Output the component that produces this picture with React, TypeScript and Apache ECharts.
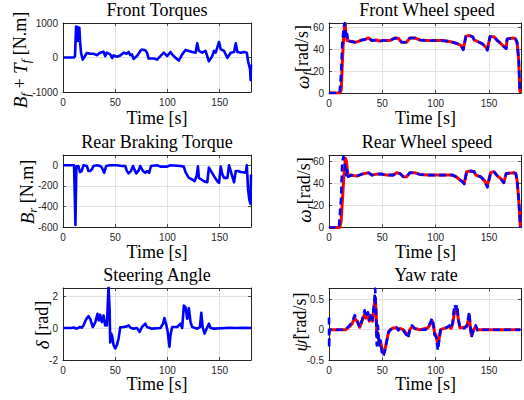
import React, { useEffect, useRef } from "react";
import * as echarts from "echarts";

// ---------- data ----------
const timeTicks = [0, 50, 100, 150];

const frontTorqueTicks = [-1000, 0, 1000];
const rearTorqueTicks = [-600, -400, -200, 0];
const speedTicks = [0, 20, 40, 60];
const steeringTicks = [-2, 0, 2];
const yawTicks = [-0.5, 0, 0.5];

const frontTorque = [
  [0, 0], [10.6, 0], [11.5, 50], [12.5, 900], [13.1, 480], [14.1, 880], [15, 480], [15.7, 860], [16.3, 480],
  [17.3, 130], [18.9, -60], [20.2, 0], [22.8, 130], [26, 110], [29.2, 110], [32.4, 70], [35.6, 140], [38.8, 170],
  [40.4, 40], [42, 140], [45.2, 90], [47.1, -20], [48.4, 60], [51.6, 20], [54.8, 60], [58, 140], [61.2, 110],
  [62.8, 160], [64.4, 70], [66, 90], [67.6, -40], [70.8, 40], [74, 190], [75.6, 230], [78.8, 210], [80.4, 140],
  [82, -30], [86.9, -30], [90.1, -60], [93.3, 40], [96.5, 140], [99.7, 40], [102.9, 160], [104.5, 90],
  [107.7, -10], [110.9, -90], [114.1, 90], [117.3, 220], [120.5, 190], [123.7, 160], [126.9, 140], [128.5, 410],
  [130.1, 190], [133.3, 140], [136.5, 190], [139.7, -110], [142.9, 40], [144.6, 190], [146.2, 140], [149.4, 450],
  [151, 240], [154.2, 190], [157.4, -10], [160.6, 140], [163.8, 160], [165.4, 410], [167, 160], [170.2, 140],
  [173.4, 160], [176, 140], [177.2, -110], [179.2, -350], [179.6, -650], [180, -200],
];

const frontSpeedRed = [
  [0, 0], [10.5, 0], [11.5, 3], [12.4, 25], [13.3, 44], [14.5, 60], [15.2, 63.5], [16, 52], [17, 48], [18.6, 47.5],
  [21, 47], [24.7, 46.4], [27, 47], [30.9, 48.5], [34, 49], [37.1, 50.3], [40.2, 48], [44.9, 48.5], [47, 47.5],
  [51, 48], [57.2, 48], [61.9, 50.3], [65, 50], [68, 46.4], [72.7, 46.4], [75.8, 50.3], [80.4, 50.3], [85.1, 48.5],
  [92.8, 48], [99, 48], [105.2, 48], [111.4, 47.4], [116, 46.4], [120.6, 45], [123.7, 43.4], [125.9, 40],
  [128.4, 52], [131.5, 52.5], [134.6, 51.5], [136.1, 48.5], [140.7, 46.4], [143.8, 45], [146.8, 42], [148.5, 40],
  [150.9, 51.5], [154.7, 51.5], [157.7, 48], [160.8, 45.5], [163.9, 42.5], [166.1, 41], [167, 49.4], [173.2, 50.3],
  [174.8, 49.4], [176.3, 46.4], [177.9, 30], [178.8, 3], [179.4, 0],
];

const frontSpeedBlue = [
  [0, 0], [9.9, 0], [11.4, 18], [12.4, 45], [13.9, 61], [14.8, 64], [15.5, 52], [16.1, 50], [17, 54], [17.9, 47],
  [18.6, 48], [21, 47], [24.7, 46.4], [27, 47], [30.9, 48.5], [34, 49], [37.1, 50.3], [40.2, 48], [44.9, 48.5],
  [47, 47.5], [51, 48], [57.2, 48], [61.9, 50.3], [65, 50], [68, 46.4], [72.7, 46.4], [75.8, 50.3], [80.4, 50.3],
  [85.1, 48.5], [92.8, 48], [99, 48], [105.2, 48], [111.4, 47.4], [116, 46.4], [120.6, 45], [123.7, 43.4],
  [125.9, 39.5], [128.4, 52.5], [131.5, 52.5], [134.6, 51.5], [136.1, 48.5], [140.7, 46.4], [143.8, 45],
  [146.8, 42], [148.5, 39], [150.9, 51.5], [154.7, 51.5], [157.7, 48], [160.8, 45.5], [163.9, 42.5], [166.1, 40.4],
  [167, 49.4], [173.2, 50.3], [174.8, 49.4], [176.3, 46.4], [177.9, 30], [178.8, 2.7], [179.4, 0],
];

const rearTorque = [
  [0, 0], [10.6, 0], [11.9, -580], [12.8, -10], [14.7, -7], [16.3, -66], [17.8, -56], [19.6, 0], [22.8, -7],
  [24.4, -56], [26, -56], [27.6, -40], [29.2, -7], [32.4, 0], [35.6, -7], [37.2, -23], [39.4, -73], [41.3, -7],
  [45, 0], [51.6, 0], [56.4, -7], [59.6, -7], [61.2, -56], [62.8, -79], [65, -56], [67, -7], [68.3, -40],
  [70.2, -79], [72.4, -50], [74, -7], [76.6, -56], [78.8, -73], [80.4, -56], [82.4, -73], [84.3, -7], [90, 0],
  [93.3, -13], [99.7, -13], [102.9, 0], [112.5, -7], [115.7, -13], [117.3, -66], [120.5, -122], [123.7, -138],
  [126, -155], [128, -100], [129.2, -10], [130.1, -122], [134.9, -155], [138.1, -165], [139.7, -23], [144.6, -106],
  [147.8, -155], [149.4, -171], [151, -13], [152.6, -89], [154.2, -122], [157.4, -122], [159, 0], [160.6, -56],
  [163.8, -165], [165.4, -56], [167.6, -56], [170.2, -66], [175, -73], [176, 0], [177.2, -237], [178.4, -336],
  [179.5, -376], [180, -89],
];

const rearSpeedRed = [
  [0, 0], [10, 0], [11.3, 5], [12.4, 21.7], [13.9, 45.8], [15.5, 62.4], [16.4, 59.4], [17.6, 47.3], [21, 47.3],
  [26, 46.4], [30.9, 48.2], [37.1, 49.4], [40.2, 47.3], [44.9, 48.2], [49.5, 48.2], [54.1, 47.3], [60.3, 47.3],
  [63.4, 49.4], [66.5, 48.8], [69.6, 45.8], [72.7, 45.8], [75.8, 49.4], [80.4, 49.4], [85.1, 47.9], [92.8, 47.3],
  [100.5, 47.3], [108.3, 47.3], [116, 47.3], [119.1, 45.8], [122.2, 43.4], [125.3, 41.3], [126.8, 39.8],
  [129, 50.3], [133, 51], [136.1, 50.3], [137.6, 47.3], [142.2, 45.8], [145.3, 42.8], [148.5, 38], [151.6, 49.7],
  [154.7, 50.3], [157.7, 46.7], [160.8, 44.3], [163.9, 40.4], [166.1, 48.8], [173.2, 49.4], [175.1, 48.8],
  [176.3, 42.8], [177.9, 24.7], [179.4, 0],
];

const rearSpeedBlue = [
  [0, 0], [9.3, 0], [11.4, 27.7], [12.4, 59.4], [13.6, 64], [14.8, 57.9], [16.1, 47.3], [17, 51.9], [17.9, 45.8],
  [21, 47.3], [26, 46.4], [30.9, 48.2], [37.1, 49.4], [40.2, 47.3], [44.9, 48.2], [49.5, 48.2], [54.1, 47.3],
  [60.3, 47.3], [63.4, 49.4], [66.5, 48.8], [69.6, 45.8], [72.7, 45.8], [75.8, 49.4], [80.4, 49.4], [85.1, 47.9],
  [92.8, 47.3], [100.5, 47.3], [108.3, 47.3], [116, 47.3], [119.1, 45.8], [122.2, 43.4], [125.3, 41.3],
  [126.8, 39.2], [129, 50.3], [133, 51], [136.1, 50.3], [137.6, 47.3], [142.2, 45.8], [145.3, 42.8], [148.5, 36.2],
  [151.6, 49.7], [154.7, 50.3], [157.7, 46.7], [160.8, 44.3], [163.9, 40.4], [166.1, 48.8], [173.2, 49.4],
  [175.1, 48.8], [176.3, 42.8], [177.9, 24.7], [179.4, 0],
];

const steering = [
  [0, 0], [8, 0], [10, 0.03], [12, -0.02], [13.1, -0.04], [16.3, 0.06], [18, 0.02], [19.6, 0.16], [22.1, 0.54],
  [24.4, 0.74], [26, 0.58], [28.5, 0.06], [30.8, 0.33], [33, 0.89], [34.3, 0.47], [35.6, 0.82], [37.2, 0.37],
  [38.8, 0.78], [40.4, 0.16], [42, 0.16], [43.6, 2.6], [44.6, 1.2], [45.2, -0.91], [46.2, -0.35], [47.1, -0.5],
  [48.4, -1.07], [50, -1.28], [51.6, -1.07], [53.2, -0.66], [54.8, 0.04], [58, 0.06], [61.2, 0.1], [62.8, 0.16],
  [65, 0], [67.6, -0.04], [70.8, 0], [73.4, -0.25], [75.6, 0.06], [78.8, 0.27], [80.4, 0.06], [85.3, -0.04],
  [93.3, 0], [95.8, 0.27], [97.1, 0.62], [99, 0.16], [100.3, -0.25], [101.9, -1.18], [102.9, -0.45], [104.5, 0.06],
  [109.3, 0.06], [112.5, 0.27], [114.1, 0], [115.7, 1.4], [117.3, 1.3], [118.9, 0.58], [120.5, 1.24], [122.1, 0.37],
  [123.7, 0.06], [128.5, -0.04], [131.1, 0.06], [132.4, 0.95], [133.7, 0.06], [135.6, -0.35], [137.5, -0.04],
  [139.7, 0.27], [141.3, 0], [144.6, -0.04], [160, 0.02], [163.8, 0], [175, 0.02], [180, 0],
];

const yawRed = [
  [0, 0], [15.5, 0], [19.2, 0.05], [21.7, 0.1], [24.1, 0.19], [26.3, 0.14], [28.8, 0.04], [30.9, 0.14], [33.4, 0.26],
  [34.6, 0.19], [36.5, 0.24], [37.7, 0.14], [39.6, 0.22], [40.8, 0.14], [42.7, 0.46], [43.3, 0.54], [44.2, 0.3],
  [44.8, -0.1], [45.8, -0.05], [47, -0.2], [48.3, -0.2], [49.5, -0.3], [51, -0.38], [52.6, -0.32], [54.1, -0.18],
  [55.7, -0.05], [57.2, 0], [60.3, 0.03], [63.4, 0.03], [65, 0], [66.5, 0.02], [69.6, 0], [72.7, -0.07],
  [74.2, -0.1], [75.8, 0], [77.9, 0.05], [80.4, 0.02], [85.1, 0], [92.8, 0.03], [95.3, 0.1], [96.5, 0.15],
  [97.8, 0.09], [99, -0.05], [100.5, -0.1], [102.1, -0.26], [103, -0.18], [104.5, 0], [112.9, 0.05], [114.4, 0.02],
  [116, 0.1], [117.5, 0.29], [119.1, 0.27], [120, 0.35], [121.3, 0.16], [122.8, 0.03], [129.3, 0.05], [131.5, 0.24],
  [132.5, 0.05], [133.6, -0.1], [135.5, 0], [137.6, 0.05], [139.1, 0], [179.4, 0],
];

const yawBlue = [
  [0, 0.2], [0.15, -0.3], [0.5, 0], [15.5, 0], [19.2, 0.07], [21.7, 0.13], [24.1, 0.24], [26.3, 0.16], [28.8, 0.04],
  [30.9, 0.16], [33.4, 0.32], [34.6, 0.21], [36.5, 0.29], [37.7, 0.16], [39.6, 0.27], [40.8, 0.16], [42.7, 0.52],
  [43.3, 0.68], [44.2, 0.18], [44.8, -0.26], [45.8, 0.07], [47, -0.26], [48.3, -0.18], [49.5, -0.37], [51, -0.44],
  [52.6, -0.34], [54.1, -0.2], [55.7, -0.04], [57.2, -0.01], [60.3, 0.03], [63.4, 0.04], [65, -0.01], [66.5, 0.03],
  [69.6, -0.01], [72.7, -0.09], [74.2, -0.14], [75.8, 0], [77.9, 0.07], [80.4, 0.02], [85.1, 0], [90.4, 0],
  [92.8, 0.04], [95.3, 0.13], [96.5, 0.19], [97.8, 0.1], [99, -0.09], [100.5, -0.12], [102.1, -0.34], [103, -0.21],
  [104.5, -0.01], [106.7, 0.02], [109.8, 0.03], [112.9, 0.07], [114.4, 0.02], [116, 0.13], [117.5, 0.41],
  [119.1, 0.35], [120, 0.41], [121.3, 0.18], [122.8, 0.04], [126.8, 0.02], [129.3, 0.07], [131.5, 0.29],
  [132.5, 0.04], [133.6, -0.12], [135.5, -0.01], [137.6, 0.07], [139.1, -0.01], [142.2, 0], [179.4, 0],
];

// ---------- layout / styling ----------
const SERIF = "'Liberation Serif', 'Times New Roman', serif";
const SANS = "'Liberation Sans', Arial, sans-serif";
const AX = "#262626";
const GRIDC = "#e2e2e2";
const BLUE = "#0000ff";
const RED = "#ff0000";

const panels = [
  { grid: { left: 63, top: 23, width: 188, height: 69 }, y: [-1000, 1000, 1000], ticks: frontTorqueTicks,
    title: "Front Torques", tpos: [157, 10], xlabY: 118,
    ylab: "{i|B}{s|f}{n| + }{i|T}{s|f}{n| [N.m]}", ypos: [20, 60] },
  { grid: { left: 329, top: 23, width: 193, height: 70 }, y: [0, 64, 20], ticks: speedTicks,
    title: "Front Wheel speed", tpos: [427, 10], xlabY: 118,
    ylab: "{i|ω}{s|f}{n|[rad/s]}", ypos: [302, 57] },
  { grid: { left: 63, top: 155, width: 188, height: 72 }, y: [-600, 100, 200], ticks: rearTorqueTicks,
    title: "Rear Braking Torque", tpos: [157, 142], xlabY: 252,
    ylab: "{i|B}{s|r}{n| [N.m]}", ypos: [27, 192] },
  { grid: { left: 329, top: 155.5, width: 193, height: 72 }, y: [0, 65, 20], ticks: speedTicks,
    title: "Rear Wheel speed", tpos: [427, 142], xlabY: 252,
    ylab: "{i|ω}{s|r}{n|[rad/s]}", ypos: [304, 190] },
  { grid: { left: 63, top: 288, width: 188, height: 72 }, y: [-2, 2.5, 2], ticks: steeringTicks,
    title: "Steering Angle", tpos: [157, 275], xlabY: 384,
    ylab: "{i|δ}{n| [rad]}", ypos: [42, 325] },
  { grid: { left: 329, top: 288.5, width: 193, height: 71.5 }, y: [-0.5, 0.68, 0.5], ticks: yawTicks,
    title: "Yaw rate", tpos: [426, 275], xlabY: 384,
    ylab: "{i|ψ\u0307}{n|[rad/s]}", ypos: [300, 322] },
];

const seriesSpec = [
  { panel: 0, data: frontTorque, color: BLUE, width: 2.6, dashed: false },
  { panel: 1, data: frontSpeedRed, color: RED, width: 3, dashed: false },
  { panel: 1, data: frontSpeedBlue, color: BLUE, width: 2.6, dashed: true },
  { panel: 2, data: rearTorque, color: BLUE, width: 2.6, dashed: false },
  { panel: 3, data: rearSpeedRed, color: RED, width: 3, dashed: false },
  { panel: 3, data: rearSpeedBlue, color: BLUE, width: 2.6, dashed: true },
  { panel: 4, data: steering, color: BLUE, width: 2.6, dashed: false },
  { panel: 5, data: yawRed, color: RED, width: 3, dashed: false },
  { panel: 5, data: yawBlue, color: BLUE, width: 2.6, dashed: true },
];

function buildOption() {
  const grid: any[] = [];
  const xAxis: any[] = [];
  const yAxis: any[] = [];
  const graphic: any[] = [];
  const tick = { show: true, inside: true, length: 3, lineStyle: { color: AX, width: 0.8 } };
  const line = { show: true, onZero: false, lineStyle: { color: AX, width: 1 } };

  panels.forEach((p, i) => {
    grid.push({ ...p.grid, containLabel: false });
    xAxis.push({
      type: "value", gridIndex: i, position: "bottom", min: 0, max: 180, interval: 50,
      axisLine: line, axisTick: tick,
      axisLabel: {
        fontSize: 10, color: AX, fontFamily: SANS, margin: 5,
        formatter: (v: number) => (timeTicks.includes(v) ? String(v) : ""),
      },
      splitLine: { show: true, lineStyle: { color: GRIDC, width: 1 } },
    });
    xAxis.push({
      type: "value", gridIndex: i, position: "top", min: 0, max: 180, interval: 50,
      axisLine: line, axisTick: tick, axisLabel: { show: false }, splitLine: { show: false },
    });
    const ticks = p.ticks;
    yAxis.push({
      type: "value", gridIndex: i, position: "left", min: p.y[0], max: p.y[1], interval: p.y[2],
      axisLine: line, axisTick: tick,
      axisLabel: {
        fontSize: 10, color: AX, fontFamily: SANS, margin: 5,
        formatter: (v: number) => (ticks.some((t) => Math.abs(t - v) < 1e-9) ? String(v) : ""),
      },
      splitLine: { show: true, lineStyle: { color: GRIDC, width: 1 } },
    });
    yAxis.push({
      type: "value", gridIndex: i, position: "right", min: p.y[0], max: p.y[1], interval: p.y[2],
      axisLine: line, axisTick: tick, axisLabel: { show: false }, splitLine: { show: false },
    });

    const cx = p.grid.left + p.grid.width / 2;
    graphic.push({
      type: "text", x: p.tpos[0], y: p.tpos[1],
      style: { text: p.title, fontFamily: SERIF, fontSize: 18, fontWeight: "normal", fill: "#000", align: "center", verticalAlign: "middle" },
    });
    graphic.push({
      type: "text", x: cx, y: p.xlabY,
      style: { text: "Time [s]", fontFamily: SERIF, fontSize: 18, fontWeight: "normal", fill: "#000", align: "center", verticalAlign: "middle" },
    });
    graphic.push({
      type: "text", x: p.ypos[0], y: p.ypos[1], rotation: Math.PI / 2,
      style: {
        text: p.ylab, align: "center", verticalAlign: "middle", fill: "#000",
        fontFamily: SERIF, fontSize: 18,
        rich: {
          i: { fontFamily: SERIF, fontSize: 19, fontStyle: "italic", fill: "#000", lineHeight: 24, verticalAlign: "middle" },
          n: { fontFamily: SERIF, fontSize: 18, fill: "#000", lineHeight: 24, verticalAlign: "middle" },
          s: { fontFamily: SERIF, fontSize: 13, fontStyle: "italic", fill: "#000", lineHeight: 24, verticalAlign: "bottom" },
        },
      },
    });
  });

  const series = seriesSpec.map((s) => ({
    type: "line",
    xAxisIndex: s.panel * 2,
    yAxisIndex: s.panel * 2,
    data: s.data,
    showSymbol: false,
    symbol: "none",
    clip: true,
    lineStyle: { color: s.color, width: s.width, type: s.dashed ? [7, 4] : "solid", cap: "butt", join: "round" },
    z: s.dashed ? 3 : 2,
  }));

  return { animation: false, backgroundColor: "#fff", grid, xAxis, yAxis, series, graphic };
}

export default function App() {
  const ref = useRef<HTMLDivElement>(null);
  useEffect(() => {
    const chart = echarts.init(ref.current!, null, { renderer: "svg" });
    chart.setOption(buildOption() as any);
    return () => chart.dispose();
  }, []);
  return (
    <div
      ref={ref}
      style={{ position: "fixed", left: 0, top: 0, width: 524, height: 400, background: "#fff" }}
    />
  );
}
